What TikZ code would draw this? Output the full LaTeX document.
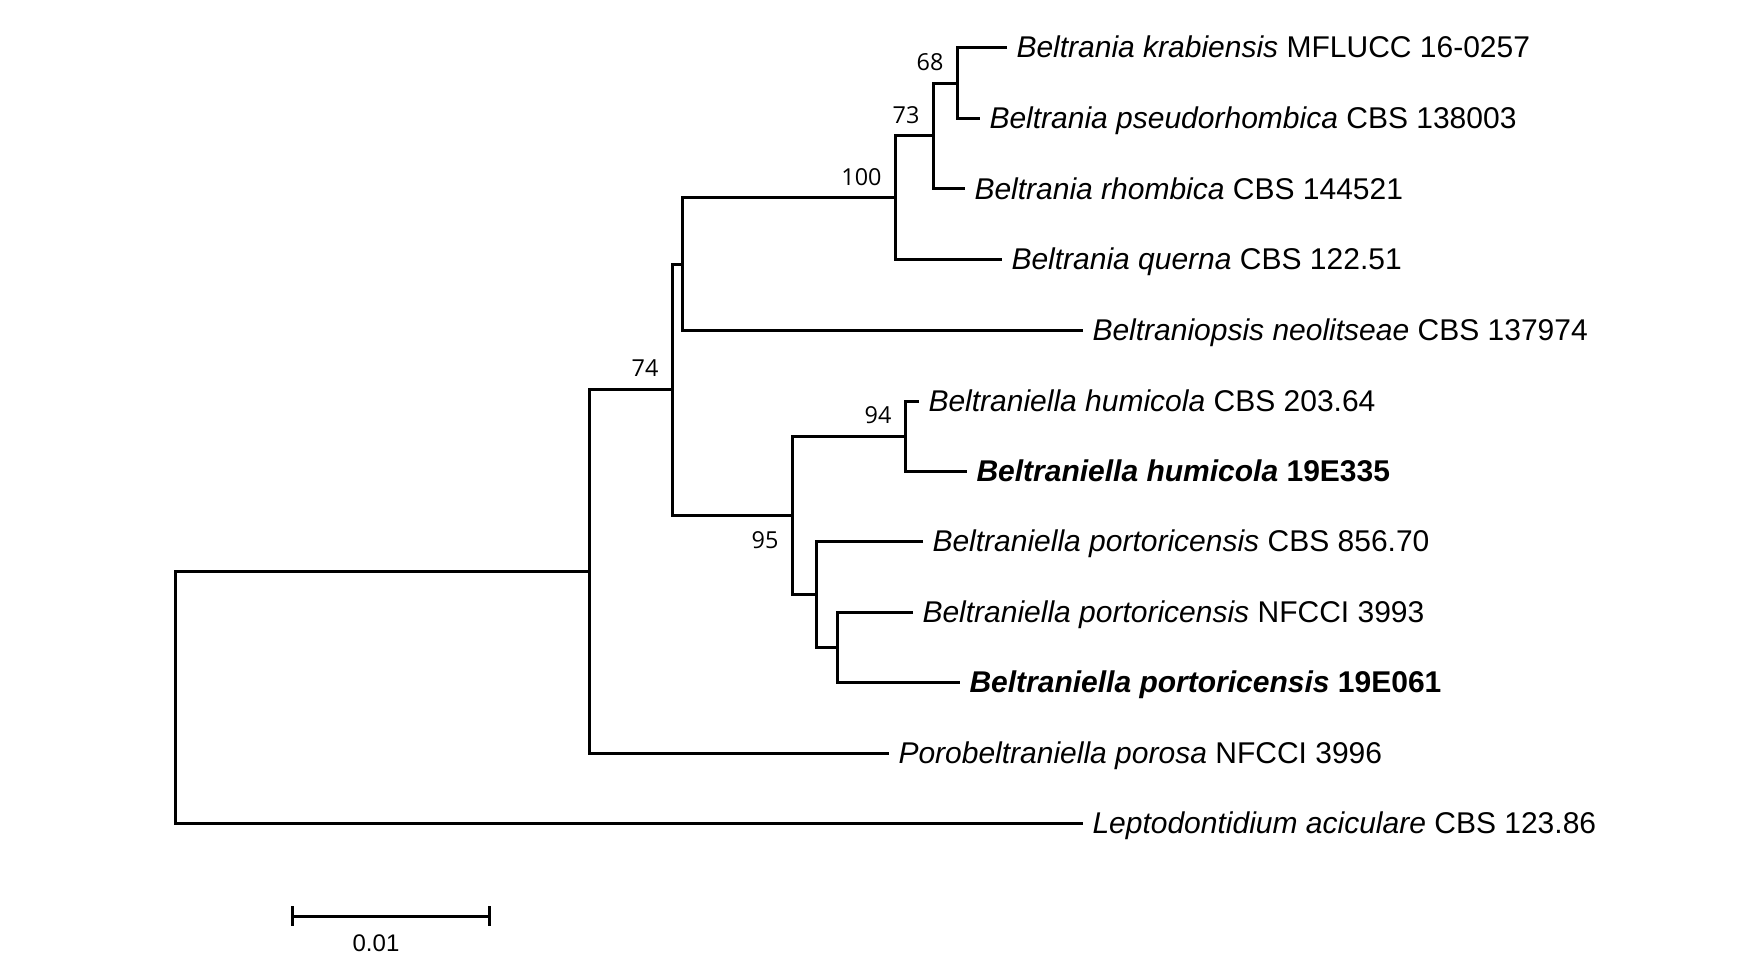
\documentclass[tikz,border=0pt]{standalone}
\usepackage{fontspec}
\setmainfont{Liberation Sans}
\newfontfamily\bootfont{Open Sans}
\usepackage{tikz}
\usetikzlibrary{calc}

\begin{document}
\begin{tikzpicture}[x=0.5pt,y=-0.5pt,line width=1.5pt,
  tip/.style={anchor=base west,inner sep=0pt,xshift=4pt,yshift=-5pt,
    font=\fontsize{15}{18}\selectfont},
  boot/.style={anchor=east,inner sep=0pt,xshift=-6pt,
    font=\bootfont\fontsize{11.7}{14}\selectfont},
  boothigh/.style={boot,yshift=10.5pt},
  bootlow/.style={boot,yshift=-12.5pt}]
\useasboundingbox (0,0) rectangle (1742,974);
% leaf ends
\coordinate (l1) at (1007,48);
\coordinate (l2) at (980,119);
\coordinate (l3) at (965,189);
\coordinate (l4) at (1002,259.5);
\coordinate (l5) at (1083,330);
\coordinate (l6) at (919,401);
\coordinate (l7) at (967,471);
\coordinate (l8) at (923,541);
\coordinate (l9) at (913,612);
\coordinate (l10) at (960,682);
\coordinate (l11) at (889,753);
\coordinate (l12) at (1083,823);
% inner nodes
\coordinate (n68) at (957,83.5);
\coordinate (n73) at (933,136);
\coordinate (n100) at (895,198);
\coordinate (nA) at (682,264);
\coordinate (n74) at (672,389.5);
\coordinate (n94) at (905,436);
\coordinate (nC) at (837,647);
\coordinate (nB) at (816,594);
\coordinate (n95) at (792,515);
\coordinate (nR) at (589,571.5);
\coordinate (root) at (175,697.5);
\draw (l1) -| (n68) |- (l2);
\draw (n68) -| (n73) |- (l3);
\draw (n73) -| (n100) |- (l4);
\draw (n100) -| (nA) |- (l5);
\draw (nA) -| (n74) |- (n95);
\draw (n94) -| (n95) |- (nB);
\draw (l6) -| (n94) |- (l7);
\draw (l8) -| (nB) |- (nC);
\draw (l9) -| (nC) |- (l10);
\draw (n74) -| (nR) |- (l11);
\draw (nR) -| (root) |- (l12);
\node[tip] (t1) at (l1) {\textit{Beltrania krabiensis} MFLUCC 16-0257};
\node[tip] (t2) at (l2) {\textit{Beltrania pseudorhombica} CBS 138003};
\node[tip] (t3) at (l3) {\textit{Beltrania rhombica} CBS 144521};
\node[tip] (t4) at (l4) {\textit{Beltrania querna} CBS 122.51};
\node[tip] (t5) at (l5) {\textit{Beltraniopsis neolitseae} CBS 137974};
\node[tip] (t6) at (l6) {\textit{Beltraniella humicola} CBS 203.64};
\node[tip] (t7) at (l7) {\textbf{\textit{Beltraniella humicola} 19E335}};
\node[tip] (t8) at (l8) {\textit{Beltraniella portoricensis} CBS 856.70};
\node[tip] (t9) at (l9) {\textit{Beltraniella portoricensis} NFCCI 3993};
\node[tip] (t10) at (l10) {\textbf{\textit{Beltraniella portoricensis} 19E061}};
\node[tip] (t11) at (l11) {\textit{Porobeltraniella porosa} NFCCI 3996};
\node[tip] (t12) at (l12) {\textit{Leptodontidium aciculare} CBS 123.86};
\node[boothigh] (b68) at (n68) {68};
\node[boothigh] (b73) at (n73) {73};
\node[boothigh] (b100) at (n100) {100};
\node[boothigh] (b74) at (n74) {74};
\node[boothigh] (b94) at (n94) {94};
\node[bootlow] (b95) at (n95) {95};
% scale bar
\coordinate (sbL) at (292,916);
\coordinate (sbR) at (489,916);
\draw (sbL) -- (sbR);
\draw ($(sbL)+(0,-10)$) -- ($(sbL)+(0,10)$);
\draw ($(sbR)+(0,-10)$) -- ($(sbR)+(0,10)$);
\node[font=\fontsize{12}{14}\selectfont,inner sep=0pt] (sbtext) at (376,943) {0.01};
\end{tikzpicture}
\end{document}
